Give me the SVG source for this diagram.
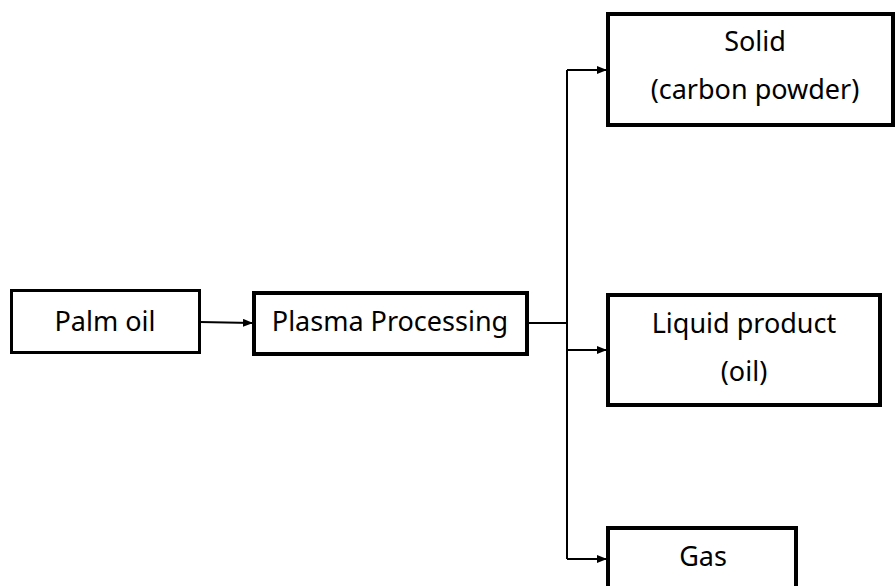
<svg xmlns="http://www.w3.org/2000/svg" width="895" height="586" viewBox="0 0 895 586">
<style>
.box{fill:#fff;stroke:#000;stroke-width:3}
.thick{stroke-width:4}
.t{font-family:"Noto Sans","DejaVu Sans",sans-serif;font-size:27px;fill:#000;text-anchor:middle}
.c{fill:none;stroke:#000;stroke-width:2}
</style>
<defs>
<marker id="ah" markerWidth="10" markerHeight="8" refX="9" refY="4" orient="auto" markerUnits="userSpaceOnUse">
<path d="M0,0 L10,4 L0,8 Z" fill="#000"/>
</marker>
</defs>
<g id="connectors">
<path class="c" d="M200,322 L252,323" marker-end="url(#ah)"/>
<path class="c" d="M527,323 L567,323"/>
<path class="c" d="M567,70 L567,559"/>
<path class="c" d="M567,70 L606,70" marker-end="url(#ah)"/>
<path class="c" d="M567,350 L606,350" marker-end="url(#ah)"/>
<path class="c" d="M567,559 L606,559" marker-end="url(#ah)"/>
</g>
<g id="palm">
<rect class="box" x="11.5" y="290.5" width="188" height="62"/>
<text class="t" x="105" y="331">Palm oil</text>
</g>
<g id="plasma">
<rect class="box thick" x="254" y="293" width="273" height="61"/>
<text class="t" x="390" y="331">Plasma Processing</text>
</g>
<g id="solid">
<rect class="box thick" x="608" y="14" width="285" height="111"/>
<text class="t" x="755" y="51">Solid</text>
<text class="t" x="755" y="99">(carbon powder)</text>
</g>
<g id="liquid">
<rect class="box thick" x="608" y="295" width="272" height="110"/>
<text class="t" x="744" y="333">Liquid product</text>
<text class="t" x="744" y="381">(oil)</text>
</g>
<g id="gas">
<rect class="box thick" x="608" y="528" width="188" height="70"/>
<text class="t" x="703" y="566">Gas</text>
</g>
</svg>
